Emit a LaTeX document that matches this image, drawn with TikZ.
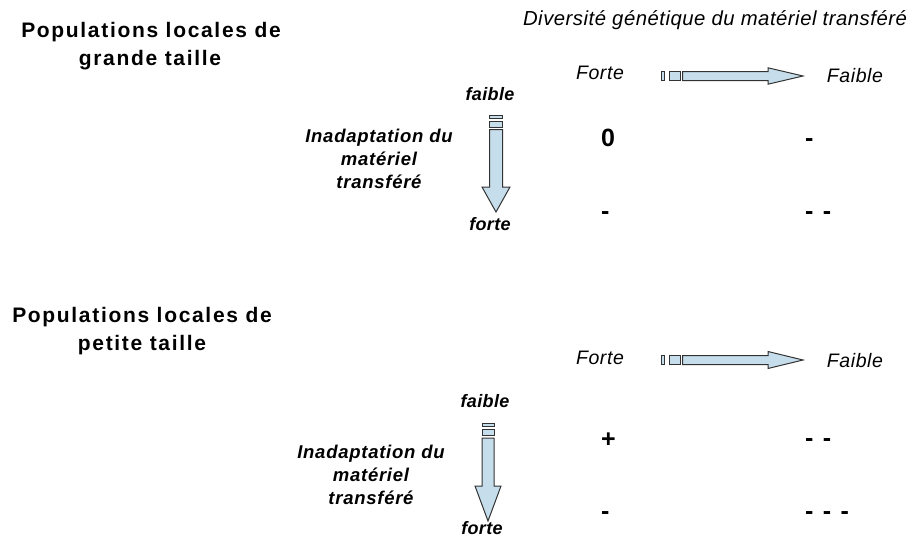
\documentclass[tikz,border=0pt]{standalone}
\usepackage{fontspec}
\setmainfont{Liberation Sans}
\definecolor{bleuclair}{RGB}{198,222,235}
\definecolor{grisfonce}{RGB}{50,50,50}
\tikzstyle{titre} = [font=\bfseries\fontsize{21}{24}\selectfont\addfontfeature{LetterSpace=8}, anchor=base, inner sep=0]
\tikzstyle{entete} = [font=\itshape\fontsize{20.3}{24}\selectfont\addfontfeature{LetterSpace=2.5}, anchor=base, inner sep=0]
\tikzstyle{sens} = [font=\itshape\fontsize{19.5}{24}\selectfont\addfontfeature{LetterSpace=3}, anchor=base, inner sep=0]
\tikzstyle{inad} = [font=\bfseries\itshape\fontsize{18.5}{24}\selectfont\addfontfeature{LetterSpace=4}, anchor=base, inner sep=0]
\tikzstyle{borne} = [font=\bfseries\itshape\fontsize{18}{24}\selectfont\addfontfeature{LetterSpace=2}, anchor=base, inner sep=0]
\tikzstyle{valeur} = [font=\bfseries\fontsize{25}{30}\selectfont\addfontfeature{LetterSpace=10}, anchor=base west, inner sep=0]
\tikzstyle{fleche} = [draw=grisfonce, fill=bleuclair, line width=1pt, line join=miter]
\tikzstyle{talon} = [draw=grisfonce, fill=bleuclair, line width=0.8pt]

\begin{document}
\begin{tikzpicture}[x=1pt, y=-1pt]
\useasboundingbox (0,0) rectangle (916,538);
% en-tete
\node (diversite) [entete] at (715,25) {Diversité génétique du matériel transféré};
% grandes populations
\node (titreA1) [titre] at (151,37) {Populations locales de};
\node (titreA2) [titre] at (150,65) {grande taille};
\node (forteA) [sens] at (600,79) {Forte};
\node (faibleA) [sens] at (855,82) {Faible};
\draw [talon] (661,71.5) rectangle (664.5,80);
\draw [talon] (669,71.5) rectangle (680,80);
\draw [fleche] (682.5,71.5) -- (768,71.5) -- (768,67.8) -- (803,76) -- (768,84.2) -- (768,80.5) -- (682.5,80.5) -- cycle;
\node (petitA) [borne] at (490,100) {faible};
\node (grandA) [borne] at (490,230) {forte};
\draw [talon] (489.5,115) rectangle (502.5,118.5);
\draw [talon] (489.5,121) rectangle (502.5,127);
\draw [fleche] (489.5,129.5) -- (489.5,187) -- (482,187) -- (496,212) -- (510,187) -- (502.5,187) -- (502.5,129.5) -- cycle;
\node (inadA1) [inad] at (379,142) {Inadaptation du};
\node (inadA2) [inad] at (379,165) {matériel};
\node (inadA3) [inad] at (379,188) {transféré};
\node (valA11) [valeur] at (601,146) {0};
\node (valA12) [valeur] at (805,146) {-};
\node (valA21) [valeur] at (601,219) {-};
\node (valA22) [valeur] at (805,219) {- -};
% petites populations
\node (titreB1) [titre] at (142,322) {Populations locales de};
\node (titreB2) [titre] at (142,350) {petite taille};
\node (forteB) [sens] at (600,364) {Forte};
\node (faibleB) [sens] at (855,367) {Faible};
\draw [talon] (661,355.5) rectangle (664.5,364);
\draw [talon] (669,355.5) rectangle (680,364);
\draw [fleche] (682.5,355.5) -- (768,355.5) -- (768,351.5) -- (803,360) -- (768,368.5) -- (768,364.5) -- (682.5,364.5) -- cycle;
\node (petitB) [borne] at (485,407) {faible};
\node (grandB) [borne] at (482,534) {forte};
\draw [talon] (482,423) rectangle (494,426.5);
\draw [talon] (482,429) rectangle (494,435.5);
\draw [fleche] (482,438) -- (482,486) -- (475,486) -- (488,521) -- (501,486) -- (494,486) -- (494,438) -- cycle;
\node (inadB1) [inad] at (371,458) {Inadaptation du};
\node (inadB2) [inad] at (371,481) {matériel};
\node (inadB3) [inad] at (371,504) {transféré};
\node (valB11) [valeur] at (601,447) {+};
\node (valB12) [valeur] at (805,446) {- -};
\node (valB21) [valeur] at (601,519) {-};
\node (valB22) [valeur] at (805,519) {- - -};
\end{tikzpicture}
\end{document}
